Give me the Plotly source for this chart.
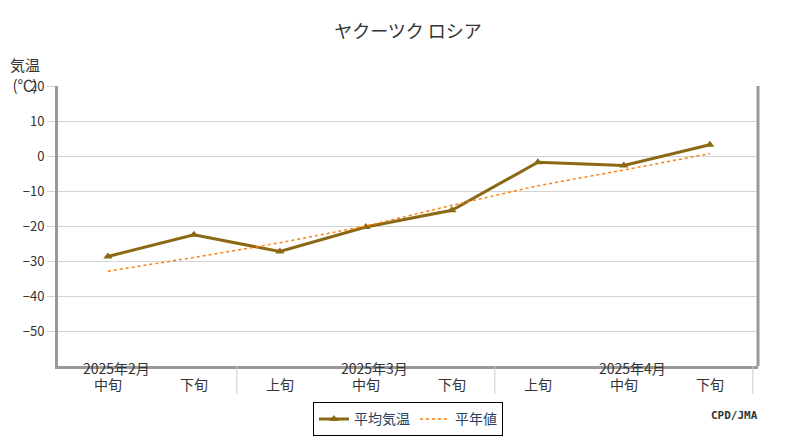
import plotly.graph_objects as go

xpos = [0, 1, 2, 3, 4, 5, 6, 7]
jun = ["中旬", "下旬", "上旬", "中旬", "下旬", "上旬", "中旬", "下旬"]
months = ["2025年2月", "2025年3月", "2025年4月"]
month_pos = [0, 3, 6]
sep_pos = [1.5, 4.5, 7.5]
temp = [-28.7, -22.5, -27.3, -20.3, -15.5, -1.8, -2.7, 3.2]
normal = [-32.9, -29.0, -24.8, -20.0, -14.1, -8.5, -4.0, 0.7]
yticks = [20, 10, 0, -10, -20, -30, -40, -50]

F = "Noto Sans CJK JP"
fig = go.Figure()
fig.add_trace(go.Scatter(x=xpos, y=temp, name="平均気温", mode="lines+markers",
                         line=dict(color="#8B6914", width=3),
                         marker=dict(symbol="triangle-up", size=8, color="#8B6914")))
fig.add_trace(go.Scatter(x=xpos, y=normal, name="平年値", mode="lines",
                         line=dict(color="#FF7F0E", width=1.5, dash="dot")))
ann = [dict(x=p, y=0, xref="x", yref="paper", yshift=-30, text=t, showarrow=False,
            font=dict(size=14, family=F, color="#333")) for p, t in zip(xpos, jun)]
ann += [dict(x=p + 0.1, y=0, xref="x", yref="paper", yshift=-14, text=t, showarrow=False,
             font=dict(size=14, family=F, color="#333")) for p, t in zip(month_pos, months)]
ann += [dict(x=0.0, y=1.0, xref="paper", yref="paper", xshift=-50, yshift=34, text="気温<br>(℃)",
             showarrow=False, align="center", font=dict(size=15, family=F, color="#333")),
        dict(x=1.0, y=0, xref="paper", yref="paper", yshift=-58, xshift=2, text="<b>CPD/JMA</b>",
             showarrow=False, xanchor="right", font=dict(size=11, family="DejaVu Sans Mono", color="#333"))]
shapes = [dict(type="line", xref="x", yref="paper", x0=s, x1=s, y0=0, y1=-0.1,
               line=dict(color="#ccc", width=1)) for s in sep_pos]
shapes.append(dict(type="line", xref="paper", yref="paper", x0=1, x1=1, y0=0, y1=1,
                   line=dict(color="#999", width=3)))
fig.update_layout(
    width=800, height=440, margin=dict(l=50, r=50, t=78, b=70),
    paper_bgcolor="white", plot_bgcolor="white",
    title=dict(text="ヤクーツク ロシア", x=0.5, y=0.96, font=dict(size=18, family=F, color="#333")),
    xaxis=dict(range=[-0.58, 7.56], showticklabels=False, showgrid=False, zeroline=False,
               showline=True, linecolor="#999", linewidth=3),
    yaxis=dict(range=[-60, 20], tickvals=yticks, ticktext=[str(v).replace("-", "−") for v in yticks],
               showgrid=True, gridcolor="#d3d3d3", zeroline=False, showline=True, linecolor="#999",
               linewidth=3, ticks="outside", ticklen=8, tickcolor="#d3d3d3",
               tickfont=dict(size=13, family=F, color="#333")),
    legend=dict(orientation="h", x=0.5, xanchor="center", y=-0.13, yanchor="top",
                bordercolor="black", borderwidth=1, font=dict(size=14, family=F)),
    annotations=ann, shapes=shapes, showlegend=True,
)
fig.write_html("out.html")
